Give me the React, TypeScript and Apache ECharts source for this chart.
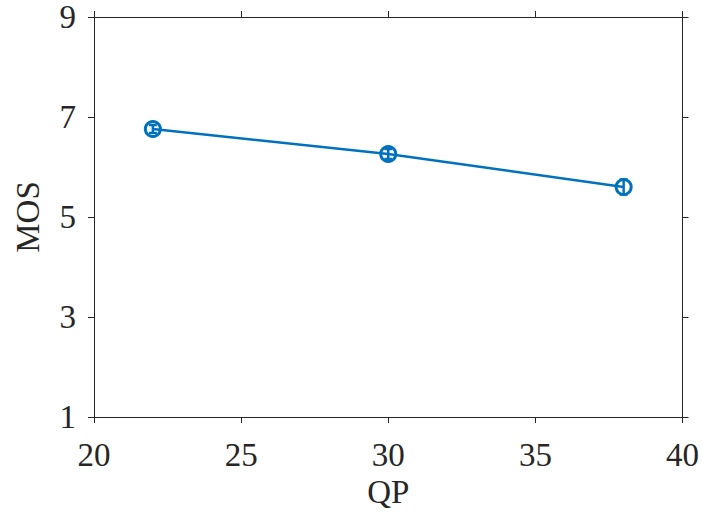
import React, { useEffect, useRef } from "react";
import * as echarts from "echarts";

const qp = [22, 30, 38];
const mos = [6.76, 6.26, 5.6];
const err = [0.08, 0.1, 0.15];
const xTicks = [20, 25, 30, 35, 40];
const yTicks = [1, 3, 5, 7, 9];

const BLUE = "#0072BD";
const AXIS = "#262626";
const FONT = "'Liberation Serif', 'Times New Roman', serif";

export default function App() {
  const ref = useRef<HTMLDivElement>(null);
  useEffect(() => {
    if (!ref.current) return;
    const chart = echarts.init(ref.current, undefined, { renderer: "svg" });
    const pts = qp.map((x, i) => [x, mos[i]]);
    const errData = qp.map((x, i) => [x, mos[i] - err[i], mos[i] + err[i]]);
    const axisCommon = {
      axisLine: { show: true, lineStyle: { color: AXIS, width: 1 } },
      axisTick: { show: true, inside: false, length: 6, lineStyle: { color: AXIS, width: 1 } },
      splitLine: { show: false },
    };
    chart.setOption({
      animation: false,
      backgroundColor: "#ffffff",
      grid: { left: 94, top: 17, right: 18, bottom: 97, containLabel: false },
      xAxis: [
        {
          type: "value",
          min: xTicks[0],
          max: xTicks[xTicks.length - 1],
          interval: 5,
          position: "bottom",
          ...axisCommon,
          axisLabel: { color: AXIS, fontFamily: FONT, fontSize: 33, margin: 21 },
          name: "QP",
          nameLocation: "middle",
          nameGap: 56,
          nameTextStyle: { color: AXIS, fontFamily: FONT, fontSize: 33 },
        },
        {
          type: "value",
          min: xTicks[0],
          max: xTicks[xTicks.length - 1],
          interval: 5,
          position: "top",
          ...axisCommon,
          axisLabel: { show: false },
        },
      ],
      yAxis: [
        {
          type: "value",
          min: yTicks[0],
          max: yTicks[yTicks.length - 1],
          interval: 2,
          position: "left",
          ...axisCommon,
          axisLabel: { color: AXIS, fontFamily: FONT, fontSize: 33, margin: 18 },
          name: "MOS",
          nameLocation: "middle",
          nameGap: 50,
          nameTextStyle: { color: AXIS, fontFamily: FONT, fontSize: 33 },
        },
        {
          type: "value",
          min: yTicks[0],
          max: yTicks[yTicks.length - 1],
          interval: 2,
          position: "right",
          ...axisCommon,
          axisLabel: { show: false },
        },
      ],
      series: [
        {
          type: "scatter",
          data: pts,
          symbol: "circle",
          symbolSize: 15,
          z: 2,
          itemStyle: { color: "#ffffff", borderColor: BLUE, borderWidth: 3, opacity: 1 },
        },
        {
          type: "line",
          data: pts,
          showSymbol: false,
          symbol: "none",
          z: 3,
          lineStyle: { color: BLUE, width: 2.5 },
        },
        {
          type: "custom",
          data: errData,
          z: 4,
          renderItem: (params: any, api: any) => {
            const x = api.value(0);
            const lo = api.coord([x, api.value(1)]);
            const hi = api.coord([x, api.value(2)]);
            return {
              type: "group",
              children: [
                {
                  type: "line",
                  shape: { x1: lo[0], y1: lo[1], x2: hi[0], y2: hi[1] },
                  style: { stroke: BLUE, lineWidth: 2.5 },
                },
                {
                  type: "line",
                  shape: { x1: lo[0] - 4, y1: lo[1], x2: lo[0] + 4, y2: lo[1] },
                  style: { stroke: BLUE, lineWidth: 2.5 },
                },
                {
                  type: "line",
                  shape: { x1: hi[0] - 4, y1: hi[1], x2: hi[0] + 4, y2: hi[1] },
                  style: { stroke: BLUE, lineWidth: 2.5 },
                },
              ],
            };
          },
        },
      ],
    });
    return () => chart.dispose();
  }, []);
  return <div ref={ref} style={{ width: 702, height: 514, position: "absolute", left: 0, top: 0 }} />;
}
